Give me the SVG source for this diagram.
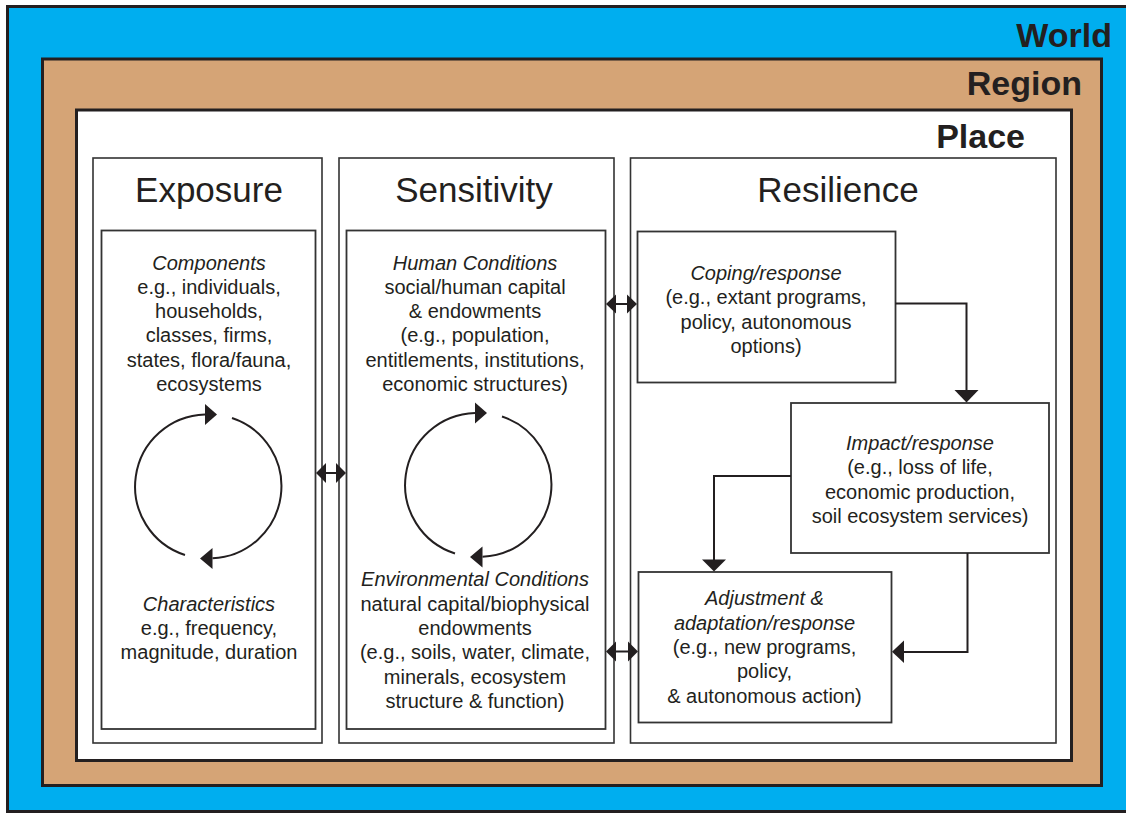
<svg xmlns="http://www.w3.org/2000/svg" width="1126" height="813" viewBox="0 0 1126 813">
<style>
.lvl{font-family:"Liberation Sans",Arial,sans-serif;font-weight:bold;font-size:34px;fill:#231F20;text-anchor:end}
.ttl{font-family:"Liberation Sans",Arial,sans-serif;font-size:35px;fill:#231F20;text-anchor:middle}
.t{font-family:"Liberation Sans",Arial,sans-serif;font-size:20px;fill:#231F20;text-anchor:middle}
.i{font-style:italic}
.col{fill:#fff;stroke:#333;stroke-width:1.6}
.box{fill:#fff;stroke:#333;stroke-width:1.8}
.ln{fill:none;stroke:#231F20;stroke-width:2}
.hd{fill:#231F20}
</style>
<rect width="1126" height="813" fill="#fff"/>
<g id="world">
<rect x="7.5" y="6.5" width="1130" height="805" fill="#00AEEF" stroke="#231F20" stroke-width="3"/>
<text class="lvl" x="1112" y="47">World</text>
</g>
<g id="region">
<rect x="42.5" y="59" width="1059" height="726.5" fill="#D5A476" stroke="#231F20" stroke-width="3"/>
<text class="lvl" x="1082" y="95">Region</text>
</g>
<g id="place">
<rect x="76.5" y="110" width="995" height="650.5" fill="#fff" stroke="#231F20" stroke-width="3"/>
<text class="lvl" x="1025" y="148">Place</text>
</g>
<g id="exposure">
<rect class="col" x="93" y="158" width="229" height="585"/>
<text class="ttl" x="209" y="202">Exposure</text>
</g>
<g id="sensitivity">
<rect class="col" x="339" y="158" width="275" height="585"/>
<text class="ttl" x="474" y="202">Sensitivity</text>
</g>
<g id="resilience">
<rect class="col" x="630.5" y="158" width="425.5" height="585"/>
<text class="ttl" x="838" y="202">Resilience</text>
</g>
<g id="exposure-detail">
<rect class="box" x="101.5" y="230.5" width="214" height="498.5"/>
<text class="t" x="209"><tspan class="i" x="209" y="270">Components</tspan><tspan x="209" y="294">e.g., individuals,</tspan><tspan x="209" y="318">households,</tspan><tspan x="209" y="342">classes, firms,</tspan><tspan x="209" y="366.5">states, flora/fauna,</tspan><tspan x="209" y="390.5">ecosystems</tspan></text>
<text class="t" x="209"><tspan class="i" x="209" y="610.5">Characteristics</tspan><tspan x="209" y="635">e.g., frequency,</tspan><tspan x="209" y="659">magnitude, duration</tspan></text>
</g>
<g id="sensitivity-detail">
<rect class="box" x="346.5" y="230.5" width="259" height="498.5"/>
<text class="t" x="475"><tspan class="i" x="475" y="270">Human Conditions</tspan><tspan x="475" y="294">social/human capital</tspan><tspan x="475" y="318">&amp; endowments</tspan><tspan x="475" y="342">(e.g., population,</tspan><tspan x="475" y="366.5">entitlements, institutions,</tspan><tspan x="475" y="390.5">economic structures)</tspan></text>
<text class="t" x="475"><tspan class="i" x="475" y="586">Environmental Conditions</tspan><tspan x="475" y="610.5">natural capital/biophysical</tspan><tspan x="475" y="635">endowments</tspan><tspan x="475" y="659">(e.g., soils, water, climate,</tspan><tspan x="475" y="684">minerals, ecosystem</tspan><tspan x="475" y="708">structure &amp; function)</tspan></text>
</g>
<g id="coping">
<rect class="box" x="637.5" y="231.5" width="258" height="151"/>
<text class="t" x="766"><tspan class="i" x="766" y="279.5">Coping/response</tspan><tspan x="766" y="304">(e.g., extant programs,</tspan><tspan x="766" y="328.5">policy, autonomous</tspan><tspan x="766" y="352.5">options)</tspan></text>
</g>
<g id="impact">
<rect class="box" x="791" y="403" width="258" height="150"/>
<text class="t" x="920"><tspan class="i" x="920" y="449.5">Impact/response</tspan><tspan x="920" y="474">(e.g., loss of life,</tspan><tspan x="920" y="498.5">economic production,</tspan><tspan x="920" y="522.5">soil ecosystem services)</tspan></text>
</g>
<g id="adjustment">
<rect class="box" x="638.5" y="572" width="253" height="150.5"/>
<text class="t" x="764.5"><tspan class="i" x="764.5" y="605">Adjustment &amp;</tspan><tspan class="i" x="764.5" y="629.5">adaptation/response</tspan><tspan x="764.5" y="653.5">(e.g., new programs,</tspan><tspan x="764.5" y="678">policy,</tspan><tspan x="764.5" y="702.5">&amp; autonomous action)</tspan></text>
</g>
<g id="connectors">
<path class="ln" d="M185,555 A72,72 0 0 1 205,414.5"/>
<polygon class="hd" points="217,414.5 205,404 205,425"/>
<path class="ln" d="M232,418 A72,72 0 0 1 212.5,558.3"/>
<polygon class="hd" points="200,558.5 212.5,548 212.5,569"/>
<path class="ln" d="M455,553.5 A72,72 0 0 1 475,413"/>
<polygon class="hd" points="487,413 475,402.5 475,423.5"/>
<path class="ln" d="M502,416.5 A72,72 0 0 1 482.5,556.8"/>
<polygon class="hd" points="470,557 482.5,546.5 482.5,567.5"/>
<line class="ln" x1="324" y1="473" x2="338" y2="473" stroke-width="2.5"/>
<polygon class="hd" points="316,473 326,463 326,483"/>
<polygon class="hd" points="346,473 336,463 336,483"/>
<line class="ln" x1="614" y1="304" x2="628" y2="304" stroke-width="2.5"/>
<polygon class="hd" points="606,304 616,294.5 616,313.5"/>
<polygon class="hd" points="637,304 627,294.5 627,313.5"/>
<line class="ln" x1="614" y1="651.5" x2="630" y2="651.5" stroke-width="2.5"/>
<polygon class="hd" points="606,651.5 616,641.5 616,661.5"/>
<polygon class="hd" points="638,651.5 628,641.5 628,661.5"/>
<path class="ln" d="M895.5,303.5 H966.5 V391"/>
<polygon class="hd" points="954.5,390 978.5,390 966.5,402.5"/>
<path class="ln" d="M791,476 H714 V560"/>
<polygon class="hd" points="702,559.5 726,559.5 714,571.5"/>
<path class="ln" d="M967.5,553 V652 H904"/>
<polygon class="hd" points="904,640.5 904,663 892,651.75"/>
</g>
</svg>
